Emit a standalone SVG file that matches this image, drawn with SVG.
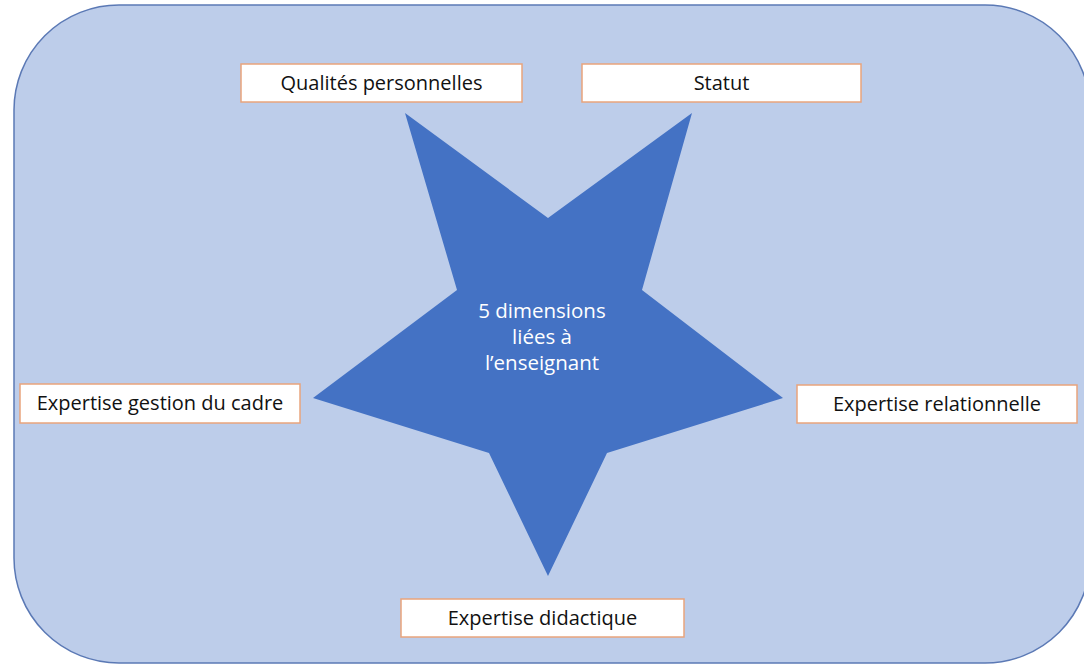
<svg xmlns="http://www.w3.org/2000/svg" width="1084" height="666" viewBox="0 0 1084 666">
<style>
.box{fill:#ffffff;stroke:#E9A47C;stroke-width:1.5}
.lbl{font-family:"Open Sans","Liberation Sans",sans-serif;font-size:20px;fill:#111111;text-anchor:middle}
.ctr{font-family:"Open Sans","Liberation Sans",sans-serif;font-size:20.5px;fill:#ffffff;text-anchor:middle;font-weight:500}
</style>
<rect width="1084" height="666" fill="#ffffff"/>
<g id="background">
<rect x="14" y="5" width="1076" height="658" rx="105" ry="105" fill="#BDCDEA" stroke="#5B79B5" stroke-width="1.5"/>
</g>
<g id="star">
<polygon points="405,113 548,218 692,113 642,290 783,398 607,453 548,576 489,453 313,398 457,290" fill="#4472C4"/>
<text class="ctr" x="542" y="318">5 dimensions</text>
<text class="ctr" x="542" y="344">liées à</text>
<text class="ctr" x="542" y="370">l’enseignant</text>
</g>
<g id="connectors"></g>
<g id="n-qualites">
<rect class="box" x="241" y="64" width="281" height="38"/>
<text class="lbl" x="381.5" y="90">Qualités personnelles</text>
</g>
<g id="n-statut">
<rect class="box" x="582" y="64" width="279" height="38"/>
<text class="lbl" x="721.5" y="90">Statut</text>
</g>
<g id="n-gestion">
<rect class="box" x="20" y="384" width="280" height="39"/>
<text class="lbl" x="160" y="410">Expertise gestion du cadre</text>
</g>
<g id="n-relationnelle">
<rect class="box" x="797" y="385" width="280" height="38"/>
<text class="lbl" x="937" y="411">Expertise relationnelle</text>
</g>
<g id="n-didactique">
<rect class="box" x="401" y="599" width="283" height="38"/>
<text class="lbl" x="542.5" y="625">Expertise didactique</text>
</g>
</svg>
